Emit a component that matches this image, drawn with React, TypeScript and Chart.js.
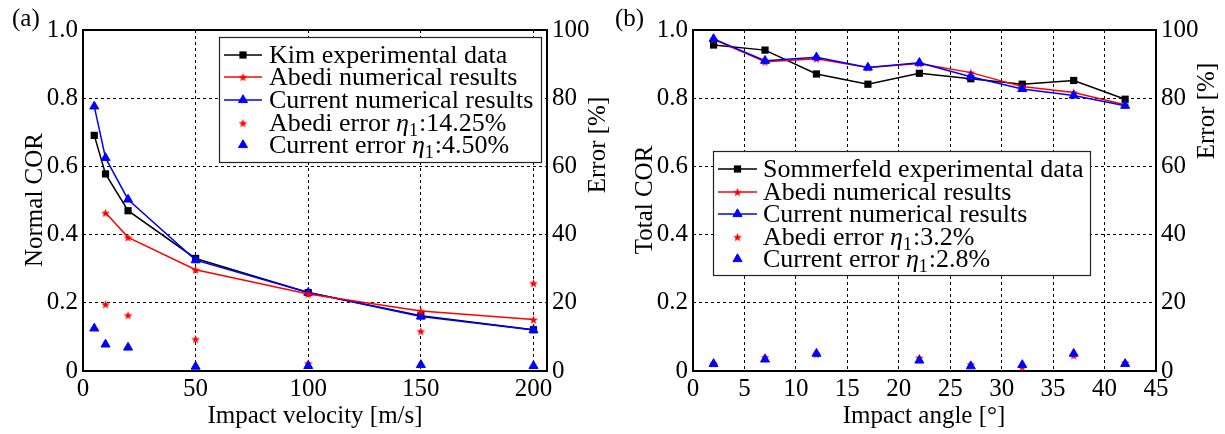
import React, { useEffect, useRef } from "react";
import { Chart, registerables } from "chart.js";
Chart.register(...registerables);

// ---------- Panel (a): Normal COR vs impact velocity ----------
const velocityA = [5, 10, 20, 50, 100, 150, 200];
const kimExperimental = [0.691, 0.578, 0.47, 0.33, 0.23, 0.162, 0.121];
const abediNumericalA = [null, 0.464, 0.392, 0.297, 0.226, 0.176, 0.151];
const currentNumericalA = [0.776, 0.625, 0.503, 0.325, 0.23, 0.16, 0.12];
const abediErrorA = [null, 19.6, 16.4, 9.4, 2.3, 11.7, 25.8];
const currentErrorA = [12.5, 7.8, 6.9, 1.3, 1.5, 1.8, 1.5];
const velocityTicks = [0, 50, 100, 150, 200];

// ---------- Panel (b): Total COR vs impact angle ----------
const angleB = [2, 7, 12, 17, 22, 27, 32, 37, 42];
const sommerfeldExperimental = [0.956, 0.941, 0.871, 0.841, 0.873, 0.857, 0.841, 0.852, 0.797];
const abediNumericalB = [0.973, 0.907, 0.916, 0.89, 0.902, 0.875, 0.834, 0.817, 0.781];
const currentNumericalB = [0.974, 0.91, 0.92, 0.89, 0.904, 0.863, 0.827, 0.808, 0.778];
const abediErrorB = [2.3, 4.1, 5.0, null, 3.9, 2.0, 1.2, 4.6, 2.5];
const currentErrorB = [2.1, 3.4, 5.1, null, 3.1, 1.4, 1.8, 5.1, 2.1];
const angleTicks = [0, 5, 10, 15, 20, 25, 30, 35, 40, 45];

const corTicks = [0, 0.2, 0.4, 0.6, 0.8, 1.0];
const errorTicks = [0, 20, 40, 60, 80, 100];

const FONT = "'Liberation Serif', 'Times New Roman', serif";
const FS = 25;
const LFS = 26;

Chart.defaults.font.family = FONT;
Chart.defaults.font.size = FS;
Chart.defaults.color = "#000";

function pts(xs: number[], ys: (number | null)[]) {
  const out: { x: number; y: number }[] = [];
  xs.forEach((x, i) => {
    const y = ys[i];
    if (y !== null && y !== undefined) out.push({ x, y });
  });
  return out;
}

let starCache: HTMLCanvasElement | null = null;
function starImage(): HTMLCanvasElement {
  if (starCache) return starCache;
  const R = 4.6;
  const s = 11;
  const c = document.createElement("canvas");
  c.width = s;
  c.height = s;
  const g = c.getContext("2d")!;
  g.fillStyle = "#ff0000";
  g.beginPath();
  for (let i = 0; i < 10; i++) {
    const r = i % 2 === 0 ? R : R * 0.42;
    const a = -Math.PI / 2 + (i * Math.PI) / 5;
    const px = s / 2 + r * Math.cos(a);
    const py = s / 2 + 0.6 + r * Math.sin(a);
    if (i === 0) g.moveTo(px, py);
    else g.lineTo(px, py);
  }
  g.closePath();
  g.fill();
  starCache = c;
  return c;
}

function drawMarker(ctx: CanvasRenderingContext2D, kind: string, color: string, x: number, y: number) {
  ctx.save();
  ctx.fillStyle = color;
  ctx.strokeStyle = color;
  ctx.lineWidth = 1;
  if (kind === "rect") {
    const s = 3.6;
    ctx.fillRect(x - s, y - s, 2 * s, 2 * s);
  } else if (kind === "triangle") {
    const r = 5.2;
    ctx.beginPath();
    ctx.moveTo(x, y - r);
    ctx.lineTo(x + r * 0.866, y + r * 0.5);
    ctx.lineTo(x - r * 0.866, y + r * 0.5);
    ctx.closePath();
    ctx.fill();
    ctx.stroke();
  } else if (kind === "star") {
    const img = starImage();
    ctx.drawImage(img, x - img.width / 2, y - img.height / 2);
  }
  ctx.restore();
}

function drawRichLabel(ctx: CanvasRenderingContext2D, text: string, x: number, y: number) {
  ctx.fillStyle = "#000";
  ctx.textAlign = "left";
  ctx.textBaseline = "alphabetic";
  const parts = text.split("η₁");
  ctx.font = `${LFS}px ${FONT}`;
  ctx.fillText(parts[0], x, y);
  let cx = x + ctx.measureText(parts[0]).width;
  if (parts.length > 1) {
    ctx.font = `italic ${LFS}px ${FONT}`;
    ctx.fillText("η", cx, y);
    cx += ctx.measureText("η").width;
    ctx.font = `${Math.round(LFS * 0.7)}px ${FONT}`;
    ctx.fillText("1", cx, y + 5);
    cx += ctx.measureText("1").width + 1;
    ctx.font = `${LFS}px ${FONT}`;
    ctx.fillText(parts[1], cx, y);
  }
}

type Box = { x: number; y: number; w: number; h: number; rows: number[]; h1: number; h2: number; tx: number };

function legendPlugin(box: Box) {
  return {
    id: "customLegend",
    afterDraw(chart: any) {
      const ctx: CanvasRenderingContext2D = chart.ctx;
      ctx.save();
      ctx.fillStyle = "#ffffff";
      ctx.fillRect(box.x, box.y, box.w, box.h);
      ctx.strokeStyle = "#222";
      ctx.lineWidth = 1.2;
      ctx.strokeRect(box.x + 0.5, box.y + 0.5, box.w, box.h);
      chart.data.datasets.forEach((ds: any, i: number) => {
        const y = box.rows[i];
        if (ds.showLine !== false) {
          ctx.strokeStyle = ds.borderColor;
          ctx.lineWidth = 1.5;
          ctx.beginPath();
          ctx.moveTo(box.h1, y);
          ctx.lineTo(box.h2, y);
          ctx.stroke();
        }
        drawMarker(ctx, ds.markerKind, ds.borderColor, (box.h1 + box.h2) / 2, y);
        drawRichLabel(ctx, ds.label, box.tx, y + 8);
      });
      ctx.restore();
    },
  };
}

type TextItem = { text: string; x: number; y: number; rot?: number; align?: CanvasTextAlign };

function framePlugin(texts: TextItem[]) {
  return {
    id: "frameAndTitles",
    beforeDatasetsDraw(chart: any) {
      const { ctx, chartArea: a } = chart;
      ctx.save();
      ctx.strokeStyle = "#000";
      ctx.lineWidth = 2;
      ctx.strokeRect(a.left, a.top, a.right - a.left, a.bottom - a.top);
      ctx.restore();
    },
    afterDraw(chart: any) {
      const ctx: CanvasRenderingContext2D = chart.ctx;
      texts.forEach((t) => {
        ctx.save();
        ctx.translate(t.x, t.y);
        ctx.rotate(t.rot || 0);
        ctx.font = `${FS}px ${FONT}`;
        ctx.fillStyle = "#000";
        ctx.textAlign = t.align || "center";
        ctx.textBaseline = "alphabetic";
        ctx.fillText(t.text, 0, 0);
        ctx.restore();
      });
    },
  };
}

function lineDs(label: string, data: any, color: string, marker: string, order: number, showLine: boolean, yAxisID: string) {
  const isStar = marker === "star";
  return {
    label,
    data,
    borderColor: color,
    backgroundColor: color,
    pointBackgroundColor: color,
    pointBorderColor: color,
    pointBorderWidth: marker === "triangle" ? 1 : 0,
    pointStyle: isStar ? starImage() : marker,
    pointRadius: marker === "rect" ? 5.1 : 5.2,
    borderWidth: 1.5,
    showLine,
    tension: 0,
    order,
    clip: false as any,
    yAxisID,
    markerKind: marker,
  };
}

function tickFont() {
  return { family: FONT, size: FS };
}

function buildConfig(opts: {
  xMax: number;
  xTicks: number[];
  series: any[];
  yWidth: number;
  y1Width: number;
  box: Box;
  texts: TextItem[];
}): any {
  const gridCommon = { color: "#000", lineWidth: 1, drawTicks: false };
  return {
    type: "line",
    data: { datasets: opts.series },
    options: {
      animation: false,
      responsive: false,
      events: [],
      layout: { padding: { top: 30, left: 0, right: 0, bottom: 0 } },
      plugins: { legend: { display: false }, tooltip: { enabled: false } },
      scales: {
        x: {
          type: "linear",
          min: 0,
          max: opts.xMax,
          position: "bottom",
          afterBuildTicks: (s: any) => {
            s.ticks = opts.xTicks.map((v) => ({ value: v }));
          },
          afterFit: (s: any) => {
            s.height = 63;
          },
          grid: gridCommon,
          border: { display: false, dash: [3, 3] },
          ticks: { font: tickFont(), color: "#000", padding: 3, maxRotation: 0, autoSkip: false, callback: (v: number) => String(v) },
        },
        y: {
          type: "linear",
          min: 0,
          max: 1,
          position: "left",
          afterBuildTicks: (s: any) => {
            s.ticks = corTicks.map((v) => ({ value: v }));
          },
          afterFit: (s: any) => {
            s.width = opts.yWidth;
          },
          grid: gridCommon,
          border: { display: false, dash: [3, 3] },
          ticks: { font: tickFont(), color: "#000", padding: 5, callback: (v: number) => (v === 0 ? "0" : v.toFixed(1)) },
        },
        y1: {
          type: "linear",
          min: 0,
          max: 100,
          position: "right",
          afterBuildTicks: (s: any) => {
            s.ticks = errorTicks.map((v) => ({ value: v }));
          },
          afterFit: (s: any) => {
            s.width = opts.y1Width;
          },
          grid: { display: false, drawTicks: false },
          border: { display: false },
          ticks: { font: tickFont(), color: "#000", padding: 5, callback: (v: number) => String(v) },
        },
      },
    },
    plugins: [framePlugin(opts.texts), legendPlugin(opts.box)],
  };
}

function configA() {
  return buildConfig({
    xMax: 206,
    xTicks: velocityTicks,
    yWidth: 83,
    y1Width: 65,
    series: [
      lineDs("Kim experimental data", pts(velocityA, kimExperimental), "#000000", "rect", 5, true, "y"),
      lineDs("Abedi numerical results", pts(velocityA, abediNumericalA), "#ff0000", "star", 3, true, "y"),
      lineDs("Current numerical results", pts(velocityA, currentNumericalA), "#0000ff", "triangle", 4, true, "y"),
      lineDs("Abedi error η₁:14.25%", pts(velocityA, abediErrorA), "#ff0000", "star", 1, false, "y1"),
      lineDs("Current error η₁:4.50%", pts(velocityA, currentErrorA), "#0000ff", "triangle", 0, false, "y1"),
    ],
    box: { x: 219, y: 37, w: 322, h: 125, rows: [55, 77, 100, 123, 145], h1: 224, h2: 262, tx: 269 },
    texts: [
      { text: "(a)", x: 12, y: 26, align: "left" },
      { text: "Normal COR", x: 42, y: 200, rot: -Math.PI / 2 },
      { text: "Error [%]", x: 605, y: 145, rot: -Math.PI / 2 },
      { text: "Impact velocity [m/s]", x: 315, y: 423 },
    ],
  });
}

function configB() {
  return buildConfig({
    xMax: 45,
    xTicks: angleTicks,
    yWidth: 81,
    y1Width: 69,
    series: [
      lineDs("Sommerfeld experimental data", pts(angleB, sommerfeldExperimental), "#000000", "rect", 5, true, "y"),
      lineDs("Abedi numerical results", pts(angleB, abediNumericalB), "#ff0000", "star", 4, true, "y"),
      lineDs("Current numerical results", pts(angleB, currentNumericalB), "#0000ff", "triangle", 3, true, "y"),
      lineDs("Abedi error η₁:3.2%", pts(angleB, abediErrorB), "#ff0000", "star", 1, false, "y1"),
      lineDs("Current error η₁:2.8%", pts(angleB, currentErrorB), "#0000ff", "triangle", 0, false, "y1"),
    ],
    box: { x: 101, y: 151, w: 377, h: 124, rows: [169, 192, 214, 237, 259], h1: 106, h2: 145, tx: 151 },
    texts: [
      { text: "(b)", x: 3, y: 26, align: "left" },
      { text: "Total COR", x: 40, y: 200, rot: -Math.PI / 2 },
      { text: "Error [%]", x: 602, y: 111, rot: -Math.PI / 2 },
      { text: "Impact angle [°]", x: 312, y: 423 },
    ],
  });
}

function ChartCanvas({ make, left, width }: { make: () => any; left: number; width: number }) {
  const ref = useRef<HTMLCanvasElement>(null);
  useEffect(() => {
    const chart = new Chart(ref.current!, make());
    return () => chart.destroy();
  }, []);
  return (
    <canvas
      ref={ref}
      width={width}
      height={434}
      style={{ position: "absolute", left, top: 0, width, height: 434, display: "block" }}
    />
  );
}

export default function App() {
  return (
    <div style={{ position: "absolute", left: 0, top: 0, width: 1225, height: 434, background: "#ffffff", overflow: "hidden" }}>
      <ChartCanvas make={configA} left={0} width={612} />
      <ChartCanvas make={configB} left={612} width={613} />
    </div>
  );
}
